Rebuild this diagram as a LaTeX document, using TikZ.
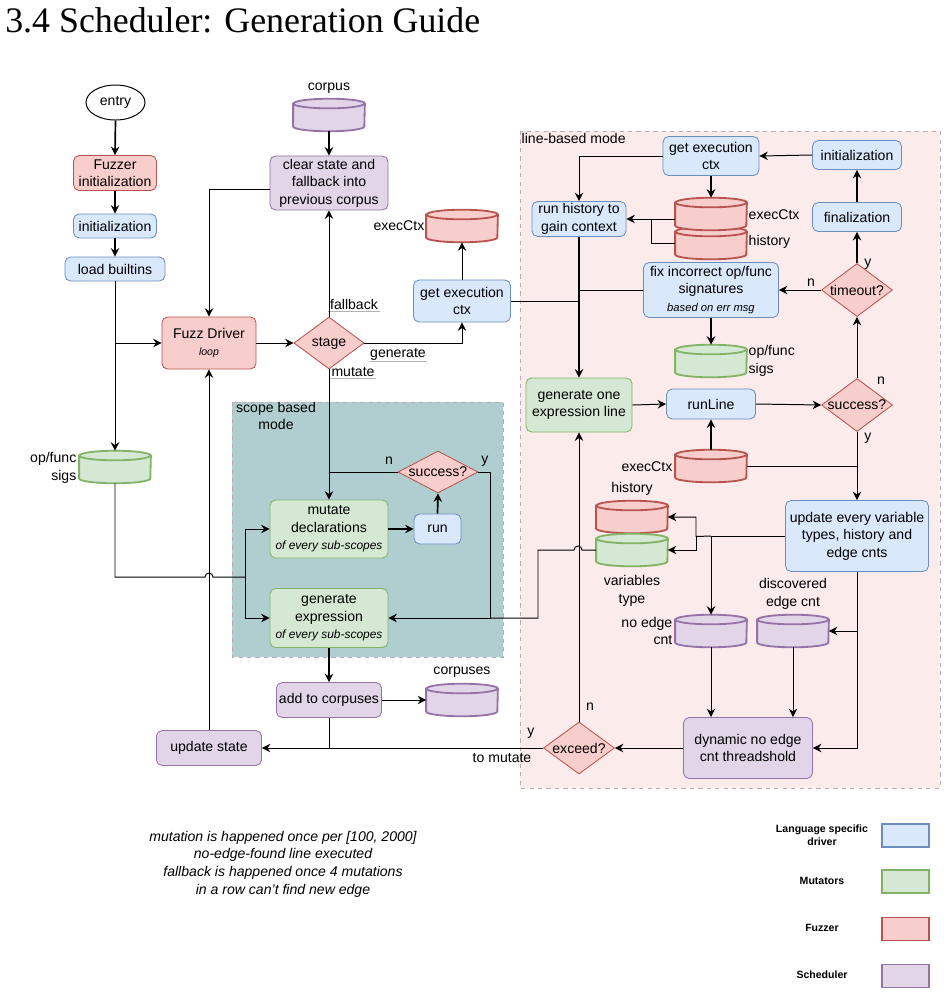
\documentclass[tikz,border=0pt]{standalone}
\usepackage{fontspec}
\setmainfont{Liberation Sans}
\newfontfamily\titlefont{Liberation Serif}
\usepackage{xcolor}
\usepackage{tikz}
\usetikzlibrary{arrows.meta, calc, shapes.geometric}
\definecolor{drvfill}{HTML}{DAE8FC}
\definecolor{drvline}{HTML}{6C8EBF}
\definecolor{mutfill}{HTML}{D5E8D4}
\definecolor{mutline}{HTML}{82B366}
\definecolor{fzrfill}{HTML}{F8CECC}
\definecolor{fzrline}{HTML}{B85450}
\definecolor{schfill}{HTML}{E1D5E7}
\definecolor{schline}{HTML}{9673A6}
\definecolor{scopebg}{HTML}{B0CECF}
\definecolor{linebg}{HTML}{FBEBEA}
\definecolor{modeline}{HTML}{BBAAB5}

\tikzset{
  every node/.style={font=\fontsize{10}{12.4}\selectfont},
  box/.style={rectangle, rounded corners=4pt, line width=0.6pt, align=center, inner sep=1pt},
  drv/.style={box, fill=drvfill, draw=drvline},
  mut/.style={box, fill=mutfill, draw=mutline},
  fzr/.style={box, fill=fzrfill, draw=fzrline},
  sch/.style={box, fill=schfill, draw=schline},
  decide/.style={diamond, fill=fzrfill, draw=fzrline, line width=0.6pt, inner sep=0pt},
  dbbox/.style={rectangle, draw=none, inner sep=0pt, minimum width=1.78cm, minimum height=0.8cm},
  flow/.style={-{Stealth[length=6pt, width=6pt, inset=2pt]}, line width=0.7pt},
  thickflow/.style={flow, line width=1.2pt},
  wire/.style={line width=0.7pt},
  tag/.style={inner sep=1pt},
  edgelbl/.style={inner sep=1pt, append after command={(\tikzlastnode.south west) edge[draw=black!30, line width=0.4pt] (\tikzlastnode.south east)}},
  mode/.style={draw=modeline, dashed, line width=0.6pt},
  keybox/.style={rounded corners=0pt, line width=0.8pt, minimum width=1.175cm, minimum height=0.575cm},
  keytext/.style={font=\bfseries\fontsize{7.5}{9.2}\selectfont, align=center},
}

\newcommand{\dbcyl}[4]{%
  \node[dbbox] (#1) at (#2) {};
  \filldraw[fill=#3, draw=#4, line width=1.3pt]
    ($(#1.north west)+(0,-0.12cm)$) -- ($(#1.south west)+(0,0.12cm)$)
    arc[start angle=180, end angle=360, x radius=0.89cm, y radius=0.12cm]
    -- ($(#1.north east)+(0,-0.12cm)$)
    arc[start angle=0, end angle=180, x radius=0.89cm, y radius=0.12cm] -- cycle;
  \draw[draw=#4, line width=1.3pt] ($(#1.north west)+(0,-0.12cm)$)
    arc[start angle=180, end angle=360, x radius=0.89cm, y radius=0.12cm];
}

\begin{document}
\begin{tikzpicture}[x=0.025cm, y=-0.025cm]
  \useasboundingbox (0,0) rectangle (947,995);
  \node[anchor=base west, inner sep=0pt, font=\titlefont\fontsize{25.5}{30}\selectfont] (title) at (5,32) {3.4 Scheduler: Generation Guide};

  \filldraw[fill=scopebg, mode] (232,402) rectangle (503,657);
  \filldraw[fill=linebg, mode] (520,131) rectangle (940,788);
  \node[align=center, inner sep=1pt] (scopetitle) at (276,416) {scope based\\mode};
  \node[anchor=west, inner sep=1pt] (linetitle) at (520,138) {line-based mode};

  \node[ellipse, draw, line width=0.7pt, minimum width=1.475cm, minimum height=0.875cm, inner sep=0pt] (entry) at (115.5,102.5) {entry};
  \node[fzr, minimum width=2.075cm, minimum height=0.875cm] (finit) at (115,173) {Fuzzer\\initialization};
  \node[drv, minimum width=2.075cm, minimum height=0.6cm] (init1) at (115,226) {initialization};
  \node[drv, minimum width=2.5cm, minimum height=0.6cm] (builtins) at (115,269) {load builtins};
  \node[fzr, minimum width=2.35cm, minimum height=1.3cm] (driver) at (209,343) {Fuzz Driver\\[-1pt]{\fontsize{7.5}{9}\selectfont\itshape loop}};
  \node[decide, minimum width=1.75cm, minimum height=1.3cm, label=center:stage] (stage) at (329,343) {};
  \node[sch, minimum width=2.95cm, minimum height=1.35cm] (clear) at (329,183) {clear state and\\fallback into\\previous corpus};
  \node[drv, minimum width=2.425cm, minimum height=1.05cm] (getctx) at (462,301) {get execution\\ctx};

  \node[mut, minimum width=2.95cm, minimum height=1.45cm] (mutdecl) at (329,529) {mutate\\declarations\\{\fontsize{8.5}{11}\selectfont\itshape of every sub-scopes}};
  \node[drv, minimum width=1.175cm, minimum height=0.75cm] (run) at (437.5,529) {run};
  \node[decide, minimum width=2cm, minimum height=1.05cm, label=center:success?] (ok1) at (438,472) {};
  \node[mut, minimum width=2.95cm, minimum height=1.475cm] (genexpr) at (329,618) {generate\\expression\\{\fontsize{8.5}{11}\selectfont\itshape of every sub-scopes}};
  \node[sch, minimum width=2.625cm, minimum height=0.875cm] (addc) at (329,700) {add to corpuses};
  \node[sch, minimum width=2.625cm, minimum height=0.875cm] (upd) at (209,748) {update state};

  \node[drv, minimum width=2.4cm, minimum height=0.975cm] (getctx2) at (711,156) {get execution\\ctx};
  \node[drv, minimum width=2.225cm, minimum height=0.725cm] (init2) at (857,155) {initialization};
  \node[drv, minimum width=2.225cm, minimum height=0.725cm] (final) at (857,217) {finalization};
  \node[drv, minimum width=2.35cm, minimum height=0.875cm] (runhist) at (579,219) {run history to\\gain context};
  \node[decide, minimum width=1.775cm, minimum height=1.325cm, label=center:timeout?] (timeout) at (857,290) {};
  \node[drv, minimum width=3.375cm, minimum height=1.375cm] (fix) at (711,290) {fix incorrect op/func\\signatures\\{\fontsize{8}{11}\selectfont\itshape based on err msg}};
  \node[mut, minimum width=2.65cm, minimum height=1.35cm] (genline) at (579,405) {generate one\\expression line};
  \node[drv, minimum width=2.225cm, minimum height=0.75cm] (runline) at (711,404) {runLine};
  \node[decide, minimum width=1.775cm, minimum height=1.325cm, label=center:success?] (ok2) at (857,405) {};
  \node[drv, minimum width=3.575cm, minimum height=1.775cm] (updvar) at (857,536) {update every variable\\types, history and\\edge cnts};
  \node[sch, minimum width=3.225cm, minimum height=1.525cm] (dyn) at (748,748) {dynamic no edge\\cnt threadshold};
  \node[decide, minimum width=1.775cm, minimum height=1.3cm, label=center:exceed?] (exceed) at (579,748) {};

  \dbcyl{corpus}{329,115}{schfill}{schline}
  \dbcyl{ctxtop}{462,226}{fzrfill}{fzrline}
  \dbcyl{sigs}{115,467}{mutfill}{mutline}
  \dbcyl{corpuses}{462,700}{schfill}{schline}
  \dbcyl{hist2}{711,243}{fzrfill}{fzrline}
  \dbcyl{ctx2}{711,214}{fzrfill}{fzrline}
  \dbcyl{sigs2}{711,361}{mutfill}{mutline}
  \dbcyl{ctx3}{711,466}{fzrfill}{fzrline}
  \dbcyl{hist3}{632,517}{fzrfill}{fzrline}
  \dbcyl{vtype}{632,550}{mutfill}{mutline}
  \dbcyl{noedge}{711,631}{schfill}{schline}
  \dbcyl{disc}{793,631}{schfill}{schline}

  \node (corpuslbl) at (329,88) {corpus};
  \node[anchor=east, inner sep=1pt] (ctxtoplbl) at (426,226) {execCtx};
  \node[anchor=east, align=right, inner sep=1pt] (sigslbl) at (78,468) {op/func\\sigs};
  \node (corpuseslbl) at (462,672) {corpuses};
  \node[anchor=west, inner sep=1pt] (ctx2lbl) at (747,215) {execCtx};
  \node[anchor=west, inner sep=1pt] (hist2lbl) at (747,242) {history};
  \node[anchor=west, align=left, inner sep=1pt] (sigs2lbl) at (747,361) {op/func\\sigs};
  \node[anchor=east, inner sep=1pt] (ctx3lbl) at (674,467) {execCtx};
  \node (hist3lbl) at (632,489) {history};
  \node[align=center] (vtypelbl) at (632,591) {variables\\type};
  \node[anchor=east, align=right, inner sep=1pt] (noedgelbl) at (674,631) {no edge\\cnt};
  \node[align=center] (disclbl) at (793,594) {discovered\\edge cnt};

  \node[edgelbl] (fallbacklbl) at (354,304) {fallback};
  \node[edgelbl] (generatelbl) at (398,354) {generate};
  \node[edgelbl] (mutatelbl) at (353,372) {mutate};
  \node[tag] (ok1n) at (389,461) {n};
  \node[tag] (ok1y) at (485,461) {y};
  \node[tag] (timeoutn) at (811,283) {n};
  \node[tag] (timeouty) at (868,264) {y};
  \node[tag] (ok2n) at (881,381) {n};
  \node[tag] (ok2y) at (868,438) {y};
  \node[tag] (exceedn) at (590,707) {n};
  \node[tag] (exceedy) at (531,733) {y};
  \node[tag] (tomutate) at (502,758) {to mutate};

  \draw[thickflow] (entry.south) -- (finit.north);
  \draw[thickflow] (finit.south) -- (init1.north);
  \draw[thickflow] (init1.south) -- (builtins.north);
  \draw[flow] (builtins.south) -- (sigs.north);
  \draw[flow] (builtins.south |- driver.west) -- (driver.west);
  \draw[wire] (sigs.south) |- (205,577) arc[start angle=180, end angle=0, radius=0.1cm] -- (245,577);
  \draw[flow] (245,577) |- (mutdecl.west);
  \draw[flow] (245,577) |- (genexpr.west);
  \draw[flow] (upd.north) -- (driver.south);
  \draw[flow] ([yshift=-0.15cm]clear.west) -| (driver.north);
  \draw[flow] (driver.east) -- (stage.west);
  \draw[flow] (stage.north) -- (clear.south);
  \draw[flow] (stage.east) -| (getctx.south);
  \draw[flow] (stage.south) -- (mutdecl.north);
  \draw[thickflow] (corpus.south) -- (clear.north);
  \draw[flow] (getctx.north) -- (ctxtop.south);

  \draw[thickflow] (mutdecl.east) -- (run.west);
  \draw[thickflow] (run.north) -- (ok1.south);
  \draw[wire] (ok1.west) -- (mutdecl.north |- ok1.west);
  \draw[flow] (ok1.east) -- (490,472) |- (genexpr.east);
  \draw[wire] (vtype.west) -- (582,550) arc[start angle=0, end angle=180, radius=0.1cm] -- (538,550) |- (490,618);
  \draw[thickflow] (genexpr.south) -- (addc.north);
  \draw[flow] (addc.east) -- (corpuses.west);
  \draw[wire] (addc.south) -- (addc.south |- upd.east);
  \draw[flow] (exceed.west) -- (upd.east);

  \draw[flow] (init2.west) -- (getctx2.east);
  \draw[flow] (getctx2.west) -| (runhist.north);
  \draw[thickflow] (getctx2.south) -- (ctx2.north);
  \draw[flow] (ctx2.west |- runhist.east) -- (runhist.east);
  \draw[wire] (hist2.west) -- (651,243) -- (651,219);
  \draw[thickflow] (final.north) -- (init2.south);
  \draw[thickflow] (timeout.north) -- (final.south);
  \draw[flow] (timeout.west) -- (fix.east);
  \draw[thickflow] (fix.south) -- (sigs2.north);
  \draw[wire] (getctx.east) -- (runhist.south |- getctx.east);
  \draw[wire] (fix.west) -- (runhist.south |- fix.west);
  \draw[thickflow] (runhist.south) -- (genline.north);
  \draw[flow] (ok2.north) -- (timeout.south);
  \draw[flow] (genline.east) -- (runline.west);
  \draw[flow] (runline.east) -- (ok2.west);
  \draw[thickflow] (ctx3.north) -- (runline.south);
  \draw[wire] (ctx3.east) -- (ok2.south |- ctx3.east);
  \draw[flow] (ok2.south) -- (updvar.north);
  \draw[flow] (updvar.west) -| (noedge.north);
  \draw[flow] (noedge.north |- updvar.west) -- (696,536.5) |- (hist3.east);
  \draw[flow] (696,536.5) |- (vtype.east);
  \draw[flow] (updvar.south) |- (dyn.east);
  \draw[flow] (updvar.south |- disc.east) -- (disc.east);
  \draw[flow] (noedge.south) -- (noedge.south |- dyn.north);
  \draw[flow] (disc.south) -- (disc.south |- dyn.north);
  \draw[flow] (dyn.west) -- (exceed.east);
  \draw[flow] (exceed.north) -- (genline.south);

  \node[font=\itshape\fontsize{10}{12.6}\selectfont, align=center] (note) at (283,864) {mutation is happened once per [100, 2000]\\no-edge-found line executed\\fallback is happened once 4 mutations\\in a row can't find new edge};

  \node[keybox, fill=drvfill, draw=drvline] (keydrv) at (905.5,835.5) {};
  \node[keybox, fill=mutfill, draw=mutline] (keymut) at (905.5,881.5) {};
  \node[keybox, fill=fzrfill, draw=fzrline] (keyfzr) at (905.5,929) {};
  \node[keybox, fill=schfill, draw=schline] (keysch) at (905.5,976) {};
  \node[keytext] (keydrvlbl) at (822,835) {Language specific\\driver};
  \node[keytext] (keymutlbl) at (822,881) {Mutators};
  \node[keytext] (keyfzrlbl) at (822,928) {Fuzzer};
  \node[keytext] (keyschlbl) at (822,975) {Scheduler};
\end{tikzpicture}
\end{document}
